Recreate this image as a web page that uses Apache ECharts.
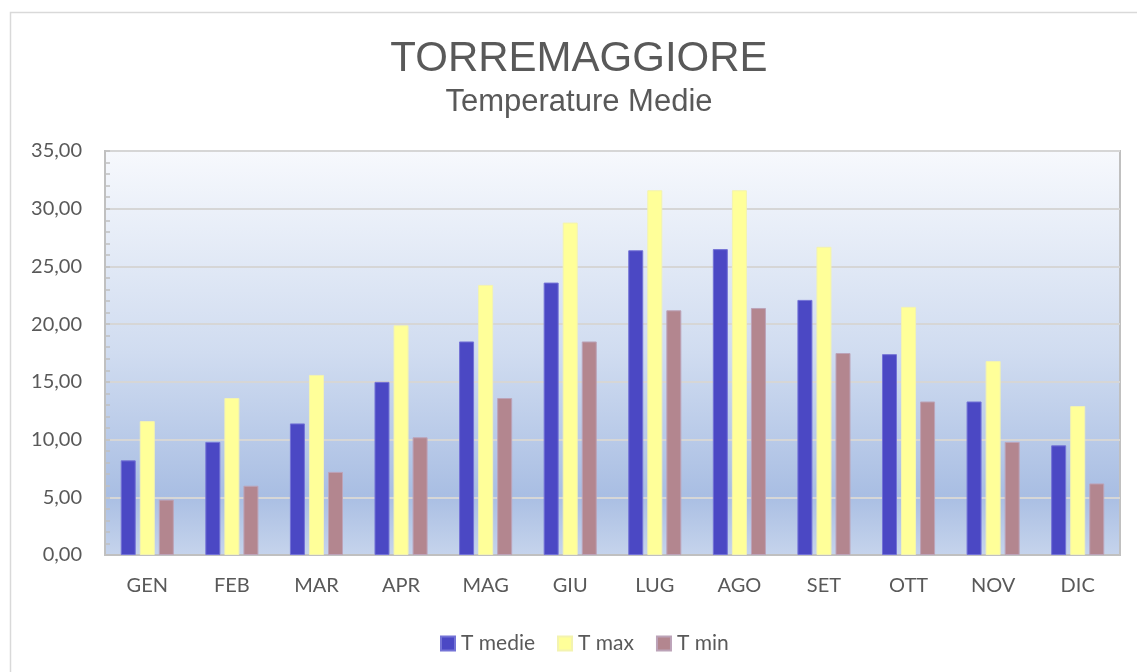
<!DOCTYPE html>
<html>
<head>
<meta charset="utf-8">
<script src="https://cdn.jsdelivr.net/npm/echarts@6/dist/echarts.min.js"></script>
<style>html,body{margin:0;padding:0;background:#fff}#c{width:1137px;height:672px}</style>
</head>
<body>
<div id="c"></div>
<script>
const categories = ['GEN','FEB','MAR','APR','MAG','GIU','LUG','AGO','SET','OTT','NOV','DIC'];
const tMedie = [8.2, 9.8, 11.4, 15.0, 18.5, 23.6, 26.4, 26.5, 22.1, 17.4, 13.3, 9.5];
const tMax   = [11.6, 13.6, 15.6, 19.9, 23.4, 28.8, 31.6, 31.6, 26.7, 21.5, 16.8, 12.9];
const tMin   = [4.8, 6.0, 7.2, 10.2, 13.6, 18.5, 21.2, 21.4, 17.5, 13.3, 9.8, 6.2];
const seriesNames = ['T medie','T max','T min'];
const titleText = 'TORREMAGGIORE';
const subtitleText = 'Temperature Medie';
const yTicks = {min: 0, max: 35, interval: 5};

const chart = echarts.init(document.getElementById('c'), null, {renderer: 'canvas'});
const font = 'Lato, "Open Sans", sans-serif';
const tfont = '"Liberation Sans", Arial, sans-serif';
const txt = '#595959';
chart.setOption({
  backgroundColor: '#ffffff',
  animation: false,
  graphic: [
    {type: 'rect', shape: {x: 10.5, y: 12.5, width: 1140, height: 680},
      style: {fill: 'none', stroke: '#d9d9d9', lineWidth: 1.5}, z: -1},
    {type: 'text', x: 579, y: 59,
      style: {text: titleText, font: '42px ' + tfont, fill: txt, textAlign: 'center', textVerticalAlign: 'middle'}},
    {type: 'text', x: 579, y: 102,
      style: {text: subtitleText, font: '31px ' + tfont, fill: txt, textAlign: 'center', textVerticalAlign: 'middle'}}
  ],
  legend: {
    data: seriesNames, top: 628, left: 435,
    itemWidth: 14, itemHeight: 14, itemGap: 22,
    icon: 'rect',
    textStyle: {fontFamily: font, fontSize: 21, color: txt, padding: [0,0,0,1]}
  },
  grid: {
    left: 105, top: 151, width: 1015, height: 404,
    show: true, borderColor: '#c0c0c0', borderWidth: 2,
    backgroundColor: new echarts.graphic.LinearGradient(0, 0, 0, 1, [
      {offset: 0, color: '#f7f9fd'},
      {offset: 0.5, color: '#d0dcf0'},
      {offset: 0.85, color: '#a9bee3'},
      {offset: 1, color: '#c6d4ec'}
    ])
  },
  xAxis: {
    type: 'category', data: categories,
    axisTick: {show: false},
    axisLine: {lineStyle: {color: '#c0c0c0', width: 2}},
    axisLabel: {fontFamily: font, fontSize: 20, color: txt, margin: 21}
  },
  yAxis: {
    type: 'value', min: yTicks.min, max: yTicks.max, interval: yTicks.interval,
    axisLine: {show: true, lineStyle: {color: '#c0c0c0', width: 2}},
    axisTick: {show: true, inside: true, length: 5, lineStyle: {color: '#c0c0c0', width: 1.5}},
    minorTick: {show: true, splitNumber: 5, length: 5, lineStyle: {color: '#c0c0c0', width: 1.5}},
    splitLine: {lineStyle: {color: '#d6d6d6', width: 2}},
    axisLabel: {fontFamily: font, fontSize: 20, color: txt, margin: 23,
      formatter: v => v.toFixed(2).replace('.', ',')}
  },
  series: [
    {name: seriesNames[0], type: 'bar', data: tMedie, barWidth: 15, barGap: '27%',
      itemStyle: {color: '#4b48c4', borderColor: '#7473d6', borderWidth: 1}},
    {name: seriesNames[1], type: 'bar', data: tMax, barWidth: 15, barGap: '27%',
      itemStyle: {color: '#ffff99', borderColor: '#f3f3b0', borderWidth: 1}},
    {name: seriesNames[2], type: 'bar', data: tMin, barWidth: 15, barGap: '27%',
      itemStyle: {color: '#b3868f', borderColor: '#bca3b8', borderWidth: 1}}
  ]
});
</script>
</body>
</html>
